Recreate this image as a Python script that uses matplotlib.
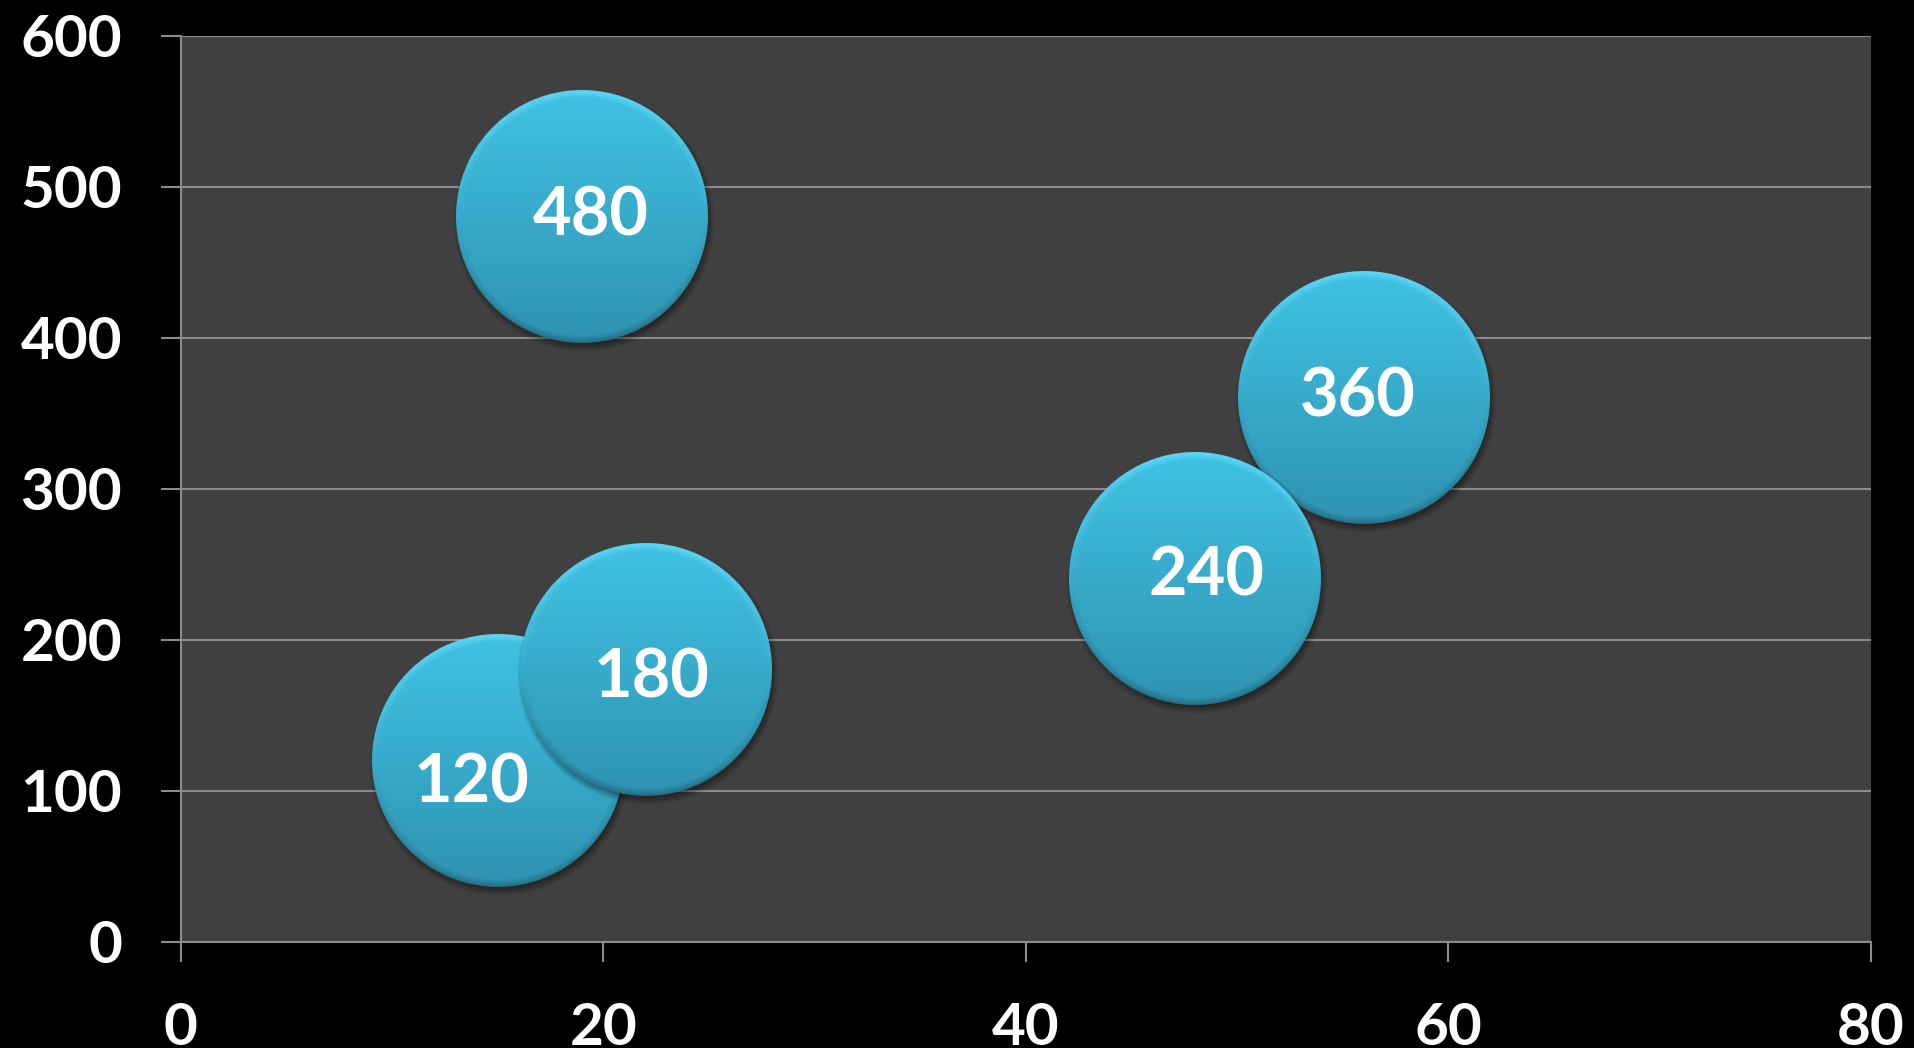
import numpy as np
import matplotlib.pyplot as plt
from matplotlib.colors import to_rgb

# bubble chart data
x_vals = [15, 22, 48, 56, 19]
y_vals = [120, 180, 240, 360, 480]
labels = ["120", "180", "240", "360", "480"]
x_ticks = [0, 20, 40, 60, 80]
y_ticks = [0, 100, 200, 300, 400, 500, 600]

# styling
draw_order = [4, 0, 1, 3, 2]          # 180 sits over 120, 240 over 360
label_shift_px = [(-26, 18), (6, 4), (12, -8), (-6, -6), (8, -5)]  # (right, down)
radius_px = 126
grid_col = "#8c8c8c"

plt.rcParams["font.family"] = ["Lato", "DejaVu Sans"]
plt.rcParams["font.weight"] = "bold"

DPI = 100
fig = plt.figure(figsize=(19.15, 10.48), dpi=DPI, facecolor="black")
ax = fig.add_axes([0.0944, 0.1014, 0.8826, 0.8645])
ax.set_facecolor("#404040")
ax.set_xlim(0, 80)
ax.set_ylim(0, 600)


def bubble_rgba(r, pad):
    n = int(2 * (r + pad))
    yy, xx = np.mgrid[0:n, 0:n] + 0.5
    c = n / 2
    dx = xx - c
    dy = yy - c
    d = np.hypot(dx, dy)
    t = np.clip((dy + r) / (2 * r), 0, 1)[..., None]
    top = np.array(to_rgb("#40c3e5"))
    bot = np.array(to_rgb("#2f93b1"))
    rgb = top * (1 - t) + bot * t
    # bevel along the rim: light on top, darker underneath
    edge = np.clip(1 - (r - d) / 8, 0, 1)
    ny = dy / np.maximum(d, 1e-6)
    light = (np.clip(-ny, 0, 1) * edge)[..., None]
    dark = (np.clip(ny, 0, 1) * edge)[..., None]
    rgb = rgb + (np.array([0.45, 0.88, 1.0]) - rgb) * light * 0.75
    rgb = rgb * (1 - 0.25 * dark)
    alpha = np.clip(r - d + 0.5, 0, 1)
    return np.dstack([rgb, alpha])


def shadow_rgba(r, pad):
    n = int(2 * (r + pad))
    yy, xx = np.mgrid[0:n, 0:n] + 0.5
    c = n / 2
    d = np.hypot(xx - c - 2, yy - c - 4)
    alpha = 0.6 * np.clip((r + 5 - d) / 12, 0, 1)
    img = np.zeros((n, n, 4))
    img[..., 3] = alpha
    return img


pad = 14
bub = bubble_rgba(radius_px, pad)
shd = shadow_rgba(radius_px, pad)
half = bub.shape[0] / 2

# size of one pixel in data units
p0 = ax.transData.inverted().transform((0, 0))
p1 = ax.transData.inverted().transform((1, 1))
sx, sy = p1 - p0

for k, i in enumerate(draw_order):
    x, y = x_vals[i], y_vals[i]
    ext = (x - half * sx, x + half * sx, y - half * sy, y + half * sy)
    ax.imshow(shd, extent=ext, aspect="auto", interpolation="bilinear",
              zorder=3 + 2 * k)
    ax.imshow(bub, extent=ext, aspect="auto", interpolation="bilinear",
              zorder=4 + 2 * k)

for i, lab in enumerate(labels):
    dx, dy = label_shift_px[i]
    ax.annotate(lab, (x_vals[i], y_vals[i]),
                xytext=(dx * 72 / DPI, -(dy + 24) * 72 / DPI),
                textcoords="offset points", ha="center", va="baseline",
                color="white", fontsize=48, fontweight="bold", zorder=20)

ax.set_xlim(0, 80)
ax.set_ylim(0, 600)
ax.set_xticks(x_ticks)
ax.set_yticks(y_ticks)
ax.yaxis.grid(True, color=grid_col, linewidth=1.5)
ax.set_axisbelow(True)
for s in ["top", "right"]:
    ax.spines[s].set_visible(False)
for s in ["left", "bottom"]:
    ax.spines[s].set_color(grid_col)
    ax.spines[s].set_linewidth(1.5)
ax.tick_params(axis="both", colors=grid_col, length=14.4, width=1.5,
               labelcolor="white", labelsize=42)
ax.tick_params(axis="y", pad=28)
ax.tick_params(axis="x", pad=29)

fig.savefig("out.png", dpi=DPI, facecolor="black")
